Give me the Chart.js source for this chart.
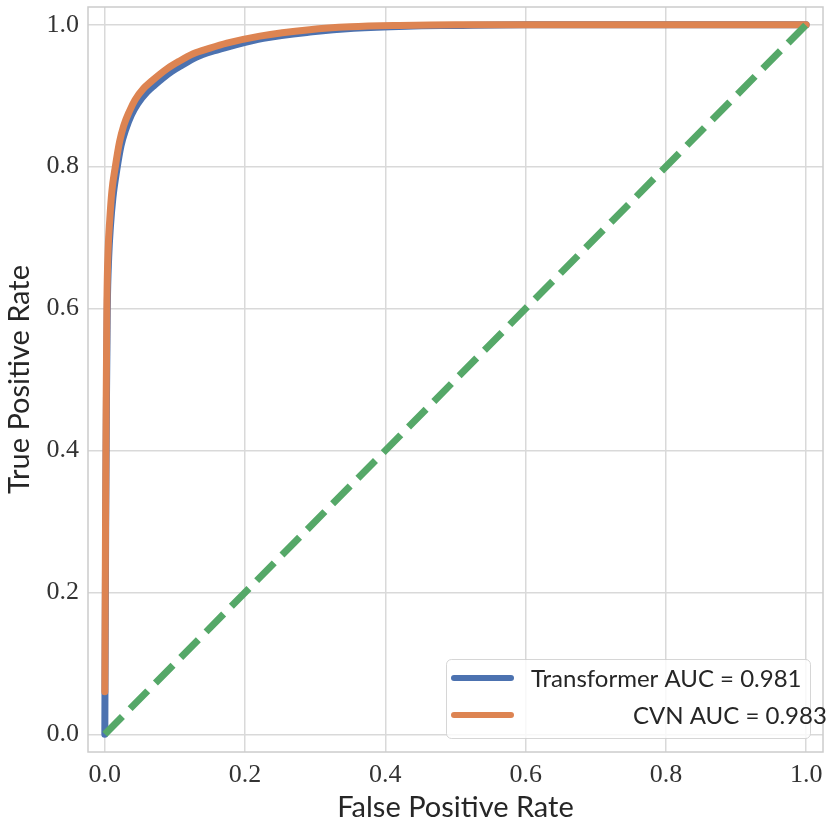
<!DOCTYPE html>
<html>
<head>
<meta charset="utf-8">
<script src="https://cdn.jsdelivr.net/npm/chart.js@4.4.1/dist/chart.umd.min.js"></script>
<style>
  html, body { margin: 0; padding: 0; background: #fff; }
</style>
</head>
<body>
<canvas id="canvas" width="831" height="832"></canvas>
<script>
// ROC curves
var cvnFpr = [0, 0.001, 0.002, 0.003, 0.0047, 0.007, 0.01, 0.015, 0.021, 0.027, 0.035, 0.043, 0.055,
  0.066, 0.078, 0.09, 0.105, 0.126, 0.15, 0.174, 0.221, 0.292, 0.35, 0.42, 0.5, 0.6, 0.7, 0.8, 0.9, 1.0];
var cvnTpr = [0.06, 0.3, 0.48, 0.61, 0.683, 0.725, 0.765, 0.8, 0.835, 0.858, 0.878, 0.894, 0.91,
  0.92, 0.93, 0.939, 0.948, 0.959, 0.967, 0.974, 0.984, 0.993, 0.997, 0.999, 1.0, 1.0, 1.0, 1.0, 1.0, 1.0];

var trfFpr = [0, 0.0002, 0.0012, 0.0023, 0.0035, 0.0055, 0.008, 0.0115, 0.017, 0.023, 0.03, 0.038, 0.047,
  0.06, 0.071, 0.083, 0.095, 0.11, 0.13, 0.155, 0.18, 0.226, 0.296, 0.355, 0.43, 0.5, 0.6, 0.7, 0.8, 0.9, 1.0];
var trfTpr = [0, 0.06, 0.29, 0.47, 0.6, 0.672, 0.716, 0.756, 0.795, 0.829, 0.853, 0.873, 0.889,
  0.905, 0.915, 0.925, 0.934, 0.943, 0.954, 0.963, 0.97, 0.981, 0.99, 0.995, 0.998, 0.999, 1.0, 1.0, 1.0, 1.0, 1.0];

var chanceFpr = [0, 1];
var chanceTpr = [0, 1];

var tickValues = [0, 0.2, 0.4, 0.6, 0.8, 1.0];
var legendLabels = ['Transformer AUC = 0.981', 'CVN AUC = 0.983'];

function toPoints(xs, ys) {
  var pts = [];
  for (let i = 0; i < xs.length; i++) {
    pts.push({ x: xs[i], y: ys[i] });
  }
  return pts;
}

var textColor = '#262626';
var gridColor = '#d9d9d9';

// frame on all four sides, like the seaborn whitegrid spines
const frame = {
  id: 'frame',
  beforeDatasetsDraw(chart) {
    const a = chart.chartArea;
    const ctx = chart.ctx;
    ctx.save();
    ctx.strokeStyle = '#cccccc';
    ctx.lineWidth = 1.5;
    ctx.strokeRect(a.left, a.top, a.right - a.left, a.bottom - a.top);
    ctx.restore();
  }
};

// legend box inside the plot, lower right
const legendBox = {
  id: 'legendBox',
  afterDatasetsDraw(chart) {
    const a = chart.chartArea;
    const ctx = chart.ctx;
    const bx = a.right - 377, by = a.bottom - 93, bw = 364, bh = 79;
    ctx.save();
    ctx.beginPath();
    ctx.roundRect(bx + 0.5, by + 0.5, bw, bh, 5);
    ctx.fillStyle = 'rgba(255,255,255,0.8)';
    ctx.fill();
    ctx.strokeStyle = 'rgba(204,204,204,0.8)';
    ctx.lineWidth = 1;
    ctx.stroke();

    ctx.font = '24px Lato';
    ctx.textBaseline = 'middle';
    ctx.fillStyle = textColor;
    const textX = [bx + 85, bx + 187];
    legendLabels.forEach(function (lab, row) {
      const ds = chart.data.datasets.find(function (d) { return d.label === lab; });
      const cy = by + 19 + row * 37;
      ctx.beginPath();
      ctx.lineCap = 'round';
      ctx.lineWidth = 6;
      ctx.strokeStyle = ds.borderColor;
      ctx.moveTo(bx + 8, cy);
      ctx.lineTo(bx + 65, cy);
      ctx.stroke();
      ctx.fillText(lab, textX[row], cy + 1);
    });
    ctx.restore();
  }
};

function noPad(scale) {
  scale.paddingTop = 0;
  scale.paddingBottom = 0;
  scale.paddingLeft = 0;
  scale.paddingRight = 0;
}

const ctx = document.getElementById('canvas');

new Chart(ctx, {
  type: 'scatter',
  data: {
    datasets: [
      {
        label: 'chance',
        data: toPoints(chanceFpr, chanceTpr),
        showLine: true,
        borderColor: '#55A868',
        borderWidth: 7,
        borderDash: [25, 11],
        borderCapStyle: 'butt',
        pointRadius: 0,
        order: 0
      },
      {
        label: legendLabels[1],
        data: toPoints(cvnFpr, cvnTpr),
        showLine: true,
        borderColor: '#DD8452',
        borderWidth: 7,
        borderCapStyle: 'round',
        borderJoinStyle: 'round',
        cubicInterpolationMode: 'monotone',
        pointRadius: 0,
        order: 1
      },
      {
        label: legendLabels[0],
        data: toPoints(trfFpr, trfTpr),
        showLine: true,
        borderColor: '#4C72B0',
        borderWidth: 7,
        borderCapStyle: 'round',
        borderJoinStyle: 'round',
        cubicInterpolationMode: 'monotone',
        pointRadius: 0,
        order: 2
      }
    ]
  },
  options: {
    responsive: false,
    animation: false,
    devicePixelRatio: 1,
    layout: { padding: { top: 7, right: 8, left: 0, bottom: 0 } },
    plugins: {
      legend: { display: false },
      tooltip: { enabled: false }
    },
    scales: {
      x: {
        type: 'linear',
        min: -0.024,
        max: 1.024,
        afterBuildTicks: function (scale) {
          scale.ticks = tickValues.map(function (v) { return { value: v }; });
        },
        afterFit: function (scale) { scale.height = 80; noPad(scale); },
        grid: { color: gridColor, lineWidth: 1.5, drawTicks: false },
        border: { display: false },
        ticks: {
          padding: 8,
          color: '#333333',
          font: { family: 'Liberation Serif', size: 26 },
          callback: function (v) { return v.toFixed(1); }
        },
        title: {
          display: true,
          text: 'False Positive Rate',
          color: textColor,
          font: { family: 'Lato', size: 29 },
          padding: { top: 0, bottom: 7 }
        }
      },
      y: {
        type: 'linear',
        min: -0.025,
        max: 1.025,
        afterBuildTicks: function (scale) {
          scale.ticks = tickValues.map(function (v) { return { value: v }; });
        },
        afterFit: function (scale) { scale.width = 88; noPad(scale); },
        grid: { color: gridColor, lineWidth: 1.5, drawTicks: false },
        border: { display: false },
        ticks: {
          padding: 9,
          color: '#333333',
          font: { family: 'Liberation Serif', size: 26 },
          callback: function (v) { return v.toFixed(1); }
        },
        title: {
          display: true,
          text: 'True Positive Rate',
          color: textColor,
          font: { family: 'Lato', size: 29 },
          padding: { top: 2, bottom: 0 }
        }
      }
    }
  },
  plugins: [frame, legendBox]
});
</script>
</body>
</html>
